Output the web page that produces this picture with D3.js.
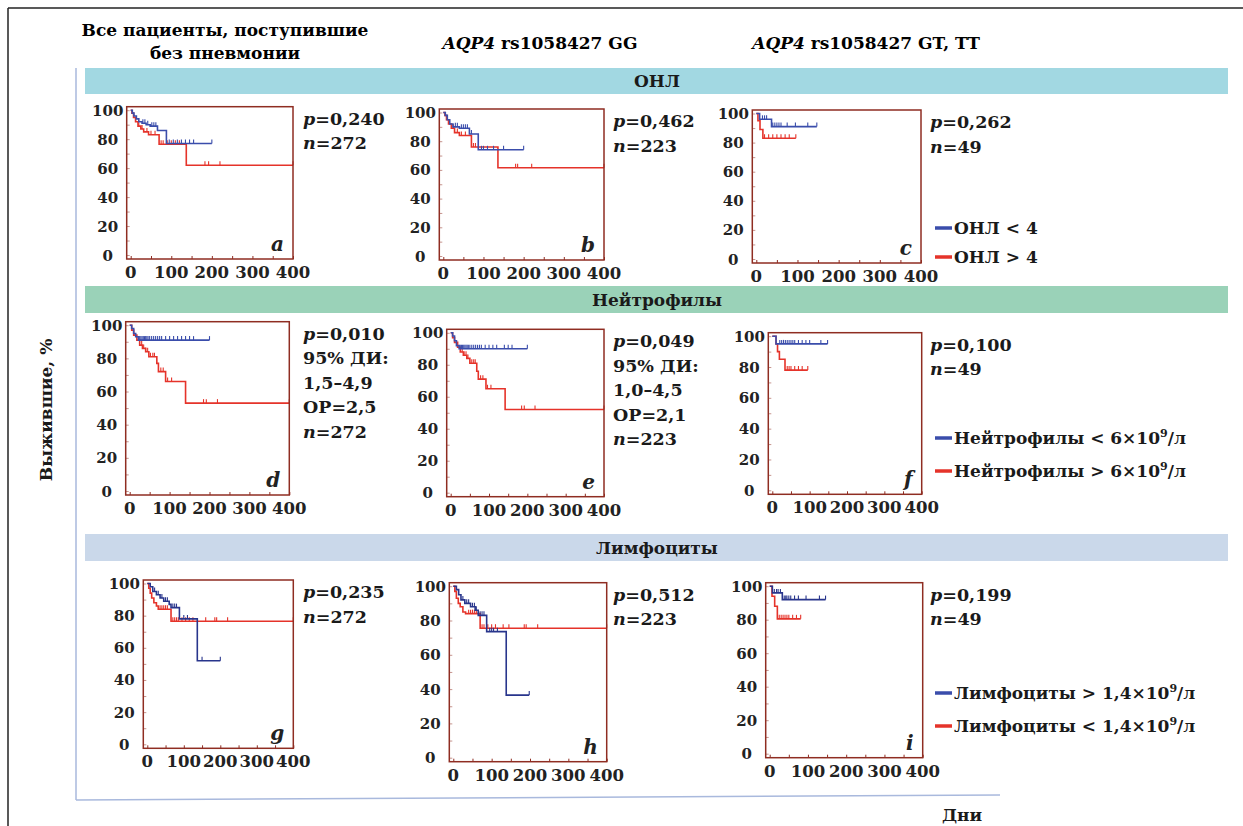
<!DOCTYPE html>
<html>
<head>
<meta charset="utf-8">
<script src="https://cdn.jsdelivr.net/npm/d3@7"></script>
<style>
  body { margin: 0; background: #fff; }
  svg { display: block; font-family: "DejaVu Serif", serif; font-weight: bold; }
</style>
</head>
<body>
<svg id="chart" width="1243" height="826"></svg>
<script>
// Kaplan-Meier steps: [day, survival %]; censored days separately
const blueA = [[0,100],[4,98],[8,96],[14,94],[20,92],[28,91],[38,90],[48,89],[66,86],[88,77],[200,77]];
const blueA_cens = [30,35,42,52,57,62,95,105,115,125,135,145,155,200];
const redA = [[0,100],[3,98],[7,95],[12,92],[18,89],[25,87],[32,85],[44,83],[70,76.5],[137,62],[400,62]];
const redA_cens = [20,28,40,50,60,75,80,90,100,110,120,183,192,220,400];

const blueB = [[0,100],[5,98],[10,95],[16,92],[24,90],[40,89],[65,85],[87,74],[200,74]];
const blueB_cens = [30,35,45,50,55,60,70,95,100,110,125,150,200];
const redB = [[0,100],[4,98],[8,95],[13,92],[20,89],[28,86],[40,84],[70,76],[136,61.5],[400,61.5]];
const redB_cens = [25,35,45,55,75,80,180,185,220,400];

const blueC = [[0,100],[8,96],[37,91],[147,91]];
const blueC_cens = [15,20,25,40,45,50,55,60,75,95,125,147];
const redC = [[0,100],[4,95],[9,89],[16,83],[96,83]];
const redC_cens = [20,30,40,50,60,70,80,96];

const blueD = [[0,100],[5,98],[10,95],[15,93],[22,91],[200,91]];
const blueD_cens = [25,28,31,34,37,40,43,46,50,55,60,65,70,75,80,90,100,110,120,130,140,150,160,200];
const redD = [[0,100],[5,97],[10,94],[18,91],[25,88],[32,86],[40,84],[48,81],[68,77],[72,72],[90,66],[140,53],[400,53]];
const redD_cens = [30,35,40,45,52,58,62,78,84,95,105,185,192,220,400];

const blueE = [[0,100],[5,98],[10,95],[15,92],[22,90],[200,90]];
const blueE_cens = [25,28,31,34,37,40,43,46,50,55,60,65,70,75,80,90,100,110,120,140,150,160,200];
const redE = [[0,100],[5,97],[10,94],[18,91],[25,88],[33,86],[42,84],[50,81],[68,76],[72,71],[92,65],[142,52],[400,52]];
const redE_cens = [30,35,40,45,55,60,64,78,84,96,105,185,192,220,400];

const blueF = [[0,100],[10,95],[148,95]];
const blueF_cens = [20,25,30,35,40,45,50,55,60,70,80,90,100,130,148];
const redF = [[0,100],[10,95],[14,90],[19,85],[34,78],[95,78]];
const redF_cens = [40,45,50,60,70,80,95];

const blueG = [[0,100],[8,98],[15,95],[25,93],[35,91],[45,89],[60,87],[65,85],[88,78],[137,52],[200,52]];
const blueG_cens = [20,30,40,50,55,70,75,80,100,110,150,200];
const redG = [[0,100],[4,97],[8,94],[12,91],[18,88],[25,86],[30,84],[65,76.5],[400,76.5]];
const redG_cens = [35,40,45,50,55,70,75,80,85,95,105,115,125,160,185,190,220,400];

const blueH = [[0,100],[8,98],[14,95],[20,92],[30,90],[45,88],[57,86],[65,83],[87,73.5],[138,36.5],[198,36.5]];
const blueH_cens = [25,35,40,50,55,60,70,75,80,95,100,105,115,198];
const redH = [[0,100],[4,97],[8,93],[13,90],[18,88],[25,85],[32,84],[70,75.5],[400,75.5]];
const redH_cens = [40,45,50,55,60,75,80,90,100,110,130,145,185,190,220,400];

const blueI = [[0,100],[7,96],[33,92],[146,92]];
const blueI_cens = [12,18,22,28,38,42,45,50,55,65,75,95,130,146];
const redI = [[0,100],[6,94],[13,88],[20,80.5],[81,80.5]];
const redI_cens = [25,30,35,40,45,50,60,70,81];

const xTicks = [0, 100, 200, 300, 400];
const yTicks = [0, 20, 40, 60, 80, 100];

const statsA = ["p=0,240", "n=272"];
const statsB = ["p=0,462", "n=223"];
const statsC = ["p=0,262", "n=49"];
const statsD = ["p=0,010", "95% ДИ:", "1,5–4,9", "ОР=2,5", "n=272"];
const statsE = ["p=0,049", "95% ДИ:", "1,0–4,5", "ОР=2,1", "n=223"];
const statsF = ["p=0,100", "n=49"];
const statsG = ["p=0,235", "n=272"];
const statsH = ["p=0,512", "n=223"];
const statsI = ["p=0,199", "n=49"];

const colTitles = ["Все пациенты, поступившие", "без пневмонии"];
const bandTitles = ["ОНЛ", "Нейтрофилы", "Лимфоциты"];

const blue = "#3a4dab", navy = "#28358c", red = "#e5332a", boxColor = "#8f2d22";

const svg = d3.select("#chart");

// page frame
svg.append("line").attr("x1", 8).attr("y1", 8).attr("x2", 1243).attr("y2", 8).attr("stroke", "#222").attr("stroke-width", 1.5);
svg.append("line").attr("x1", 8).attr("y1", 8).attr("x2", 8).attr("y2", 826).attr("stroke", "#222").attr("stroke-width", 1.5);

// outer light axes
svg.append("line").attr("x1", 76).attr("y1", 68).attr("x2", 76).attr("y2", 800).attr("stroke", "#a9b9dd").attr("stroke-width", 1.5);
svg.append("line").attr("x1", 76).attr("y1", 800).attr("x2", 1000).attr("y2", 795).attr("stroke", "#a9b9dd").attr("stroke-width", 1.5);

svg.append("text").attr("transform", "translate(52,410) rotate(-90)")
  .attr("text-anchor", "middle").style("font-size", "17px").attr("fill", "#1a1a1a").text("Выжившие, %");
svg.append("text").attr("x", 962).attr("y", 821).attr("text-anchor", "middle")
  .style("font-size", "17px").attr("fill", "#1a1a1a").text("Дни");

// column headers
svg.append("text").attr("x", 225).attr("y", 36).attr("text-anchor", "middle").style("font-size", "17px").text(colTitles[0]);
svg.append("text").attr("x", 225).attr("y", 59).attr("text-anchor", "middle").style("font-size", "17px").text(colTitles[1]);
[[540, "GG"], [866, "GT, TT"]].forEach(function(c) {
  const t = svg.append("text").attr("x", c[0]).attr("y", 49).attr("text-anchor", "middle").style("font-size", "17px");
  t.append("tspan").style("font-style", "italic").text("AQP4");
  t.append("tspan").text(" rs1058427 " + c[1]);
});

// category bands
const bands = [
  {y: 68, h: 26, fill: "#a2d8e2"},
  {y: 286, h: 27, fill: "#9ad2b8"},
  {y: 534, h: 27, fill: "#cad8ea"}
];
bands.forEach(function(b, i) {
  svg.append("rect").attr("x", 85).attr("y", b.y).attr("width", 1143).attr("height", b.h).attr("fill", b.fill);
  svg.append("text").attr("x", 657).attr("y", b.y + b.h / 2 + 6).attr("text-anchor", "middle")
    .style("font-size", "17px").attr("fill", "#1a1a1a").text(bandTitles[i]);
});

const panels = [
  {box: [126.7, 106.7, 293, 259], s1: blueA, c1: blueA_cens, s2: redA, c2: redA_cens, col1: blue, stats: statsA, sx: 303, letter: "a"},
  {box: [439.3, 109, 604, 260], s1: blueB, c1: blueB_cens, s2: redB, c2: redB_cens, col1: blue, stats: statsB, sx: 613, letter: "b"},
  {box: [752.3, 110, 921, 263], s1: blueC, c1: blueC_cens, s2: redC, c2: redC_cens, col1: blue, stats: statsC, sx: 930, letter: "c"},
  {box: [125.7, 321.7, 289.3, 495], s1: blueD, c1: blueD_cens, s2: redD, c2: redD_cens, col1: blue, stats: statsD, sx: 303, letter: "d"},
  {box: [446.7, 329.3, 604, 496.7], s1: blueE, c1: blueE_cens, s2: redE, c2: redE_cens, col1: blue, stats: statsE, sx: 613, letter: "e"},
  {box: [768.3, 332.7, 921.7, 494.3], s1: blueF, c1: blueF_cens, s2: redF, c2: redF_cens, col1: blue, stats: statsF, sx: 930, letter: "f"},
  {box: [143.3, 580, 293.3, 748.3], s1: blueG, c1: blueG_cens, s2: redG, c2: redG_cens, col1: navy, stats: statsG, sx: 303, letter: "g"},
  {box: [449.3, 582.7, 606.7, 761.7], s1: blueH, c1: blueH_cens, s2: redH, c2: redH_cens, col1: navy, stats: statsH, sx: 613, letter: "h"},
  {box: [765.7, 582.7, 922.7, 757.7], s1: blueI, c1: blueI_cens, s2: redI, c2: redI_cens, col1: navy, stats: statsI, sx: 930, letter: "i"}
];

function survAt(steps, t) {
  let s = steps[0][1];
  steps.forEach(function(p) { if (p[0] <= t) s = p[1]; });
  return s;
}

panels.forEach(function(p) {
  const [l, t, r, b] = p.box;
  const x = d3.scaleLinear().domain([0, 400]).range([l + 4, r]);
  const y = d3.scaleLinear().domain([0, 100]).range([b - 4, t + 3.5]);
  const g = svg.append("g");

  // inner ticks
  g.append("g").attr("transform", "translate(0," + b + ")")
    .call(d3.axisBottom(x).tickValues(d3.range(0, 401, 50)).tickSize(-3).tickFormat(""))
    .call(function(a) { a.select(".domain").remove(); a.selectAll("line").attr("stroke", boxColor); });
  g.append("g").attr("transform", "translate(" + l + ",0)")
    .call(d3.axisLeft(y).tickValues(d3.range(0, 101, 10)).tickSize(-3).tickFormat(""))
    .call(function(a) { a.select(".domain").remove(); a.selectAll("line").attr("stroke", boxColor).attr("stroke-opacity", 0.5); });

  const line = d3.line().x(function(d) { return x(d[0]); }).y(function(d) { return y(d[1]); }).curve(d3.curveStepAfter);

  [[p.s2, p.c2, red], [p.s1, p.c1, p.col1]].forEach(function(sr) {
    g.append("path").datum(sr[0]).attr("d", line).attr("fill", "none")
      .attr("stroke", sr[2]).attr("stroke-width", 1.6);
    g.selectAll(null).data(sr[1]).enter().append("line")
      .attr("x1", function(d) { return x(d); }).attr("x2", function(d) { return x(d); })
      .attr("y1", function(d) { return y(survAt(sr[0], d)); })
      .attr("y2", function(d) { return y(survAt(sr[0], d)) - 4; })
      .attr("stroke", sr[2]).attr("stroke-width", 1.1);
  });

  g.append("rect").attr("x", l).attr("y", t).attr("width", r - l).attr("height", b - t)
    .attr("fill", "none").attr("stroke", boxColor).attr("stroke-width", 1.5);

  // tick labels
  g.selectAll(null).data(yTicks).enter().append("text")
    .attr("x", l - 19).attr("y", function(d) { return y(d) + 5.5; })
    .attr("text-anchor", "middle").style("font-size", "15px").attr("fill", "#222")
    .text(function(d) { return d; });
  g.selectAll(null).data(xTicks).enter().append("text")
    .attr("x", function(d) { return x(d); }).attr("y", b + 19)
    .attr("text-anchor", "middle").style("font-size", "16.5px").attr("fill", "#222")
    .text(function(d) { return d; });

  g.append("text").attr("x", r - 9).attr("y", b - 8).attr("text-anchor", "end")
    .style("font-size", "20px").style("font-style", "italic").attr("fill", "#222").text(p.letter);

  // stats
  p.stats.forEach(function(s, i) {
    const tx = g.append("text").attr("x", p.sx).attr("y", t + 18 + i * 24.5)
      .style("font-size", "17.5px").attr("fill", "#1a1a1a");
    const first = s.charAt(0);
    if ((first === "p" || first === "n") && s.charAt(1) === "=") {
      tx.append("tspan").style("font-style", "italic").text(first);
      tx.append("tspan").text(s.slice(1));
    } else {
      tx.text(s);
    }
  });
});

// legends
const legends = [
  {y1: 228, y2: 257, t1: [["ОНЛ < 4"]], t2: [["ОНЛ > 4"]], c1: blue},
  {y1: 438, y2: 471, t1: [["Нейтрофилы < 6×10"], ["9", true], ["/л"]], t2: [["Нейтрофилы > 6×10"], ["9", true], ["/л"]], c1: blue},
  {y1: 693, y2: 726, t1: [["Лимфоциты > 1,4×10"], ["9", true], ["/л"]], t2: [["Лимфоциты < 1,4×10"], ["9", true], ["/л"]], c1: blue}
];
legends.forEach(function(lg) {
  [[lg.y1, lg.t1, lg.c1], [lg.y2, lg.t2, red]].forEach(function(it) {
    svg.append("line").attr("x1", 935).attr("x2", 952).attr("y1", it[0]).attr("y2", it[0])
      .attr("stroke", it[2]).attr("stroke-width", 3.5);
    const tx = svg.append("text").attr("x", 954).attr("y", it[0] + 6)
      .style("font-size", "17px").attr("fill", "#1a1a1a");
    it[1].forEach(function(part) {
      const ts = tx.append("tspan").text(part[0]);
      if (part[1]) ts.attr("dy", -7).style("font-size", "11px");
      else if (part[0] === "/л") ts.attr("dy", 7);
    });
  });
});
</script>
</body>
</html>
